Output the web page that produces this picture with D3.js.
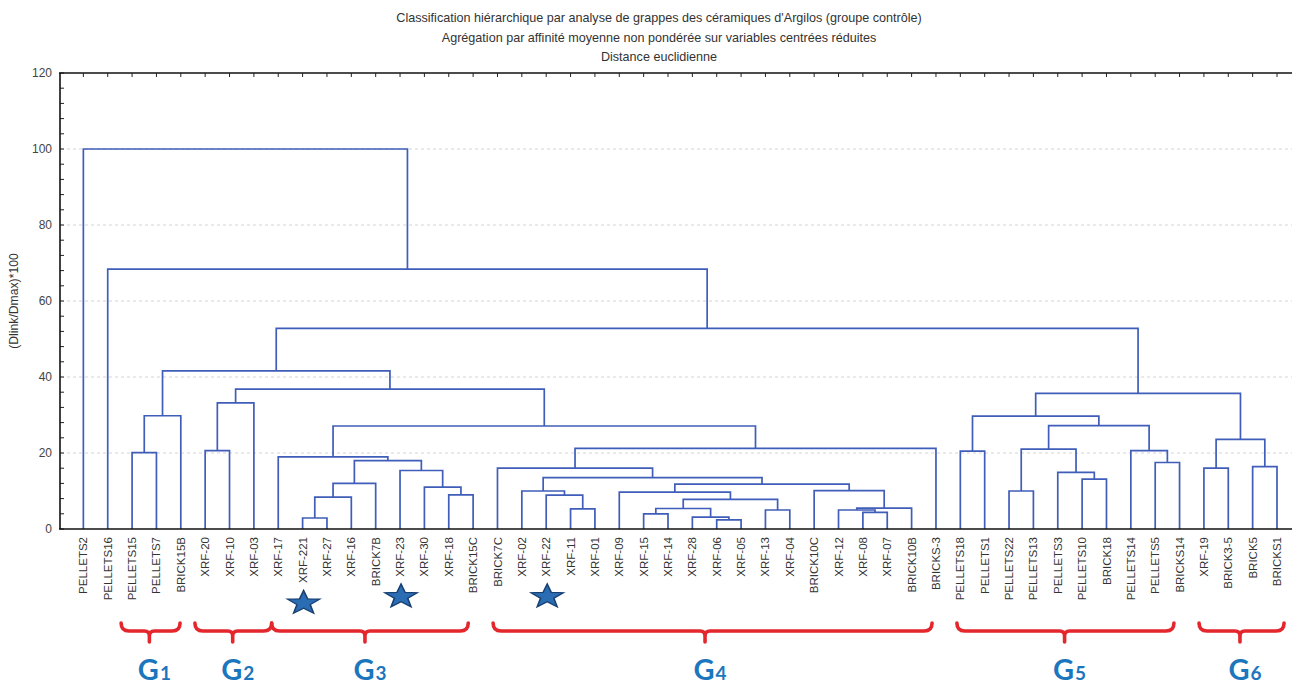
<!DOCTYPE html>
<html><head><meta charset="utf-8">
<script src="https://cdn.jsdelivr.net/npm/d3@7"></script>
<style>
body{margin:0;background:#fff}
svg text{font-family:"Liberation Sans",Arial,sans-serif}
</style>
</head><body>
<svg id="c" width="1292" height="687"></svg>
<script>
// ---------- data ----------
const titleLines = [
  "Classification hiérarchique par analyse de grappes des céramiques d'Argilos (groupe contrôle)",
  "Agrégation par affinité moyenne non pondérée sur variables centrées réduites",
  "Distance euclidienne"
];
const yTitle = "(Dlink/Dmax)*100";
const yTicks = [0, 20, 40, 60, 80, 100, 120];
const leaves = [
  "PELLETS2","PELLETS16","PELLETS15","PELLETS7","BRICK15B",
  "XRF-20","XRF-10","XRF-03",
  "XRF-17","XRF-221","XRF-27","XRF-16","BRICK7B","XRF-23","XRF-30","XRF-18","BRICK15C",
  "BRICK7C","XRF-02","XRF-22","XRF-11","XRF-01","XRF-09","XRF-15","XRF-14","XRF-28",
  "XRF-06","XRF-05","XRF-13","XRF-04","BRICK10C","XRF-12","XRF-08","XRF-07","BRICK10B","BRICKS-3",
  "PELLETS18","PELLETS1","PELLETS22","PELLETS13","PELLETS3","PELLETS10","BRICK18",
  "PELLETS14","PELLETS5","BRICKS14",
  "XRF-19","BRICK3-5","BRICK5","BRICKS1"
];
// [id, left child, right child, linkage distance]
const merges = [
  ["m1","XRF-221","XRF-27",2.9],
  ["m2","m1","XRF-16",8.4],
  ["m3","m2","BRICK7B",12.0],
  ["m4","XRF-18","BRICK15C",9.0],
  ["m5","XRF-30","m4",11.0],
  ["m6","XRF-23","m5",15.4],
  ["m7","m3","m6",18.0],
  ["m8","XRF-17","m7",19.0],
  ["m9","XRF-11","XRF-01",5.3],
  ["m10","XRF-22","m9",8.9],
  ["m11","XRF-02","m10",10.0],
  ["m12","XRF-15","XRF-14",4.0],
  ["m13","XRF-06","XRF-05",2.4],
  ["m14","XRF-28","m13",3.1],
  ["m15","m12","m14",5.4],
  ["m16","XRF-13","XRF-04",5.0],
  ["m17","m15","m16",7.8],
  ["m18","XRF-09","m17",9.7],
  ["m19","XRF-08","XRF-07",4.4],
  ["m20","XRF-12","m19",5.0],
  ["m21","m20","BRICK10B",5.5],
  ["m22","BRICK10C","m21",10.1],
  ["m23","m18","m22",11.8],
  ["m24","m11","m23",13.5],
  ["m25","BRICK7C","m24",16.0],
  ["m26","m25","BRICKS-3",21.2],
  ["m27","m8","m26",27.1],
  ["m28","XRF-20","XRF-10",20.6],
  ["m29","m28","XRF-03",33.2],
  ["m30","m29","m27",36.8],
  ["m31","PELLETS15","PELLETS7",20.1],
  ["m32","m31","BRICK15B",29.8],
  ["m33","m32","m30",41.6],
  ["m34","PELLETS18","PELLETS1",20.5],
  ["m35","PELLETS22","PELLETS13",10.0],
  ["m36","PELLETS10","BRICK18",13.1],
  ["m37","PELLETS3","m36",14.9],
  ["m38","m35","m37",21.0],
  ["m39","PELLETS5","BRICKS14",17.5],
  ["m40","PELLETS14","m39",20.6],
  ["m41","m38","m40",27.2],
  ["m42","m34","m41",29.7],
  ["m43","XRF-19","BRICK3-5",16.0],
  ["m44","BRICK5","BRICKS1",16.4],
  ["m45","m43","m44",23.6],
  ["m46","m42","m45",35.7],
  ["m47","m33","m46",52.8],
  ["m48","PELLETS16","m47",68.4],
  ["m49","PELLETS2","m48",100.0]
];
const starred = ["XRF-221","XRF-23","XRF-22"];
// groups: subscript, brace start / tip / end in leaf-position units
const groupSub   = ["1","2","3","4","5","6"];
const groupStart = [2.55, 5.58, 8.73, 17.82, 36.86, 46.80];
const groupTip   = [3.71, 7.13, 12.56, 26.52, 41.28, 48.48];
const groupEnd   = [4.97, 8.73, 16.80, 35.84, 45.77, 50.29];

// ---------- layout ----------
const svg = d3.select("#c");
const W = 1292;
const x = d3.scaleLinear().domain([0, leaves.length + 1]).range([59, 59 + 51 * 24.36]);
const y = d3.scaleLinear().domain([0, 120]).range([529, 73]);
const lineCol = "#3f5db9";

// titles
svg.append("g").selectAll("text").data(titleLines).join("text")
  .attr("x", 659).attr("y", (d, i) => 22 + i * 19.5)
  .attr("text-anchor", "middle").attr("font-size", 12.6).attr("fill", "#333")
  .text(d => d);

// gridlines
svg.append("g").selectAll("line").data(yTicks.filter(t => t > 0 && t < 120)).join("line")
  .attr("x1", 61).attr("x2", W).attr("y1", d => y(d)).attr("y2", d => y(d))
  .attr("stroke", "#d4d4d4").attr("stroke-dasharray", "3,3").attr("stroke-width", 1);

// y axis
const yAxis = d3.axisLeft(y).tickValues(yTicks).tickSize(0).tickPadding(8);
const ga = svg.append("g").attr("transform", "translate(60,0)").call(yAxis);
ga.select(".domain").remove();
ga.selectAll("text").attr("font-size", 12).attr("fill", "#444")
  .attr("font-family", "'Liberation Sans',Arial,sans-serif");
// minor / major inward ticks
svg.append("g").selectAll("line").data(d3.range(0, 121, 4)).join("line")
  .attr("x1", 60).attr("x2", 64).attr("y1", d => y(d)).attr("y2", d => y(d))
  .attr("stroke", "#222").attr("stroke-width", 1);

svg.append("text").attr("transform", `translate(18,${y(60)}) rotate(-90)`)
  .attr("text-anchor", "middle").attr("font-size", 12.2).attr("fill", "#333").text(yTitle);

// frame
svg.append("line").attr("x1", 60).attr("x2", 60).attr("y1", y(120)).attr("y2", y(0))
  .attr("stroke", "#111").attr("stroke-width", 1.6);
svg.append("line").attr("x1", 59).attr("x2", W).attr("y1", y(120)).attr("y2", y(120))
  .attr("stroke", "#111").attr("stroke-width", 1.6);
// top ticks at leaf positions
svg.append("g").selectAll("line").data(leaves).join("line")
  .attr("x1", (d, i) => x(i + 1)).attr("x2", (d, i) => x(i + 1))
  .attr("y1", y(120)).attr("y2", y(120) + 4).attr("stroke", "#222").attr("stroke-width", 1);

// ---------- dendrogram ----------
const pos = {};
leaves.forEach((l, i) => pos[l] = {x: x(i + 1), h: 0});
const gd = svg.append("g").attr("fill", "none").attr("stroke", lineCol).attr("stroke-width", 1.7);
merges.forEach(([id, a, b, h]) => {
  const A = pos[a], B = pos[b];
  pos[id] = {x: (A.x + B.x) / 2, h: h};
  gd.append("path").attr("d",
    `M${A.x},${y(A.h)}V${y(h)}H${B.x}V${y(B.h)}`);
});

// bottom axis line (drawn over the leaf stems)
svg.append("line").attr("x1", 59).attr("x2", W).attr("y1", y(0)).attr("y2", y(0))
  .attr("stroke", "#111").attr("stroke-width", 1.6);

// leaf labels
const lbl = svg.append("g").selectAll("text").data(leaves).join("text")
  .attr("transform", (d, i) => `translate(${x(i + 1)},537) rotate(-90)`)
  .attr("dy", "0.35em").attr("text-anchor", "end")
  .attr("font-size", 11.5).attr("fill", "#333").text(d => d);

// stars
function starPath(R, r) {
  const pts = [];
  for (let k = 0; k < 10; k++) {
    const ang = -Math.PI / 2 + k * Math.PI / 5;
    const rad = k % 2 === 0 ? R : r;
    pts.push([rad * Math.cos(ang), rad * Math.sin(ang)]);
  }
  return "M" + pts.map(p => p.join(",")).join("L") + "Z";
}
lbl.each(function(d, i) {
  if (!starred.includes(d)) return;
  const len = this.getComputedTextLength();
  svg.append("path").attr("d", starPath(17, 7))
    .attr("transform", `translate(${x(i + 1) + 1},${537 + len + 20}) scale(1,0.74)`)
    .attr("fill", "#2a6db3").attr("stroke", "#173f72").attr("stroke-width", 1.6);
});

// braces
const gb = svg.append("g").attr("fill", "none").attr("stroke", "#e4262d")
  .attr("stroke-width", 3.6).attr("stroke-linecap", "round").attr("stroke-linejoin", "round");
groupSub.forEach((s, i) => {
  const x0 = x(groupStart[i]), xt = x(groupTip[i]), x1 = x(groupEnd[i]);
  const yt = 623, yh = 631, yb = 642;
  gb.append("path").attr("d",
    `M${x0},${yt}Q${x0},${yh} ${x0 + 8},${yh}H${xt - 5}Q${xt},${yh} ${xt},${yh + 5}V${yb}` +
    `M${xt},${yh + 5}Q${xt},${yh} ${xt + 5},${yh}H${x1 - 8}Q${x1},${yh} ${x1},${yt}`);
});

// group labels
const gl = svg.append("g").selectAll("text").data(groupSub).join("text")
  .attr("x", (d, i) => x(groupTip[i]) + 5).attr("y", 680)
  .attr("text-anchor", "middle").attr("fill", "#1b76bd")
  .attr("font-weight", "bold").style("font-family", "Lato,'Open Sans',sans-serif");
gl.append("tspan").attr("font-size", 29).text("G");
gl.append("tspan").attr("font-size", 19).attr("dx", 1).text(d => d);
</script>
</body></html>
